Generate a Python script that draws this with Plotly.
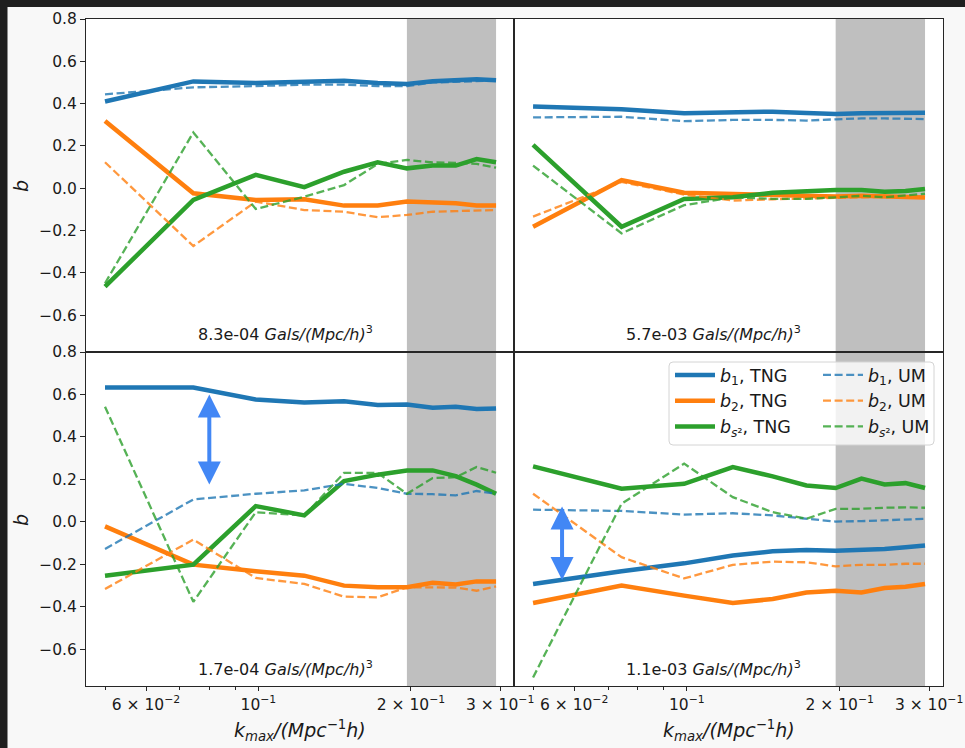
import math
import plotly.graph_objects as go

# k_max grid shared by every panel (Mpc^-1 h)
k_max = [0.0498, 0.0744, 0.0988, 0.1232, 0.1476, 0.172, 0.1964, 0.2208, 0.2452, 0.2696, 0.2945]

# number densities labelling the four panels (top-left, top-right, bottom-left, bottom-right)
densities = ["8.3e-04", "5.7e-03", "1.7e-04", "1.1e-03"]

# panel 1: n = 8.3e-04
p1_b1_tng = [0.41, 0.505, 0.497, 0.502, 0.508, 0.497, 0.493, 0.506, 0.508, 0.515, 0.51]
p1_b2_tng = [0.318, -0.024, -0.055, -0.052, -0.082, -0.082, -0.063, -0.068, -0.071, -0.081, -0.081]
p1_bs2_tng = [-0.465, -0.055, 0.063, 0.005, 0.078, 0.123, 0.094, 0.107, 0.107, 0.138, 0.123]
p1_b1_um = [0.444, 0.477, 0.483, 0.49, 0.49, 0.483, 0.483, 0.50, 0.503, 0.508, 0.51]
p1_b2_um = [0.123, -0.273, -0.063, -0.103, -0.111, -0.137, -0.126, -0.111, -0.108, -0.105, -0.103]
p1_bs2_um = [-0.449, 0.264, -0.098, -0.04, 0.015, 0.115, 0.134, 0.122, 0.12, 0.115, 0.097]

# panel 2: n = 5.7e-03
p2_b1_tng = [0.386, 0.373, 0.354, 0.357, 0.362, 0.356, 0.351, 0.354, 0.356, 0.357, 0.357]
p2_b2_tng = [-0.182, 0.039, -0.021, -0.027, -0.032, -0.036, -0.039, -0.036, -0.039, -0.042, -0.044]
p2_bs2_tng = [0.205, -0.182, -0.051, -0.043, -0.021, -0.013, -0.008, -0.008, -0.016, -0.013, -0.003]
p2_b1_um = [0.335, 0.338, 0.317, 0.323, 0.323, 0.32, 0.326, 0.33, 0.33, 0.33, 0.327]
p2_b2_um = [-0.134, 0.03, -0.03, -0.058, -0.052, -0.048, -0.045, -0.04, -0.04, -0.04, -0.042]
p2_bs2_um = [0.107, -0.213, -0.08, -0.043, -0.05, -0.05, -0.043, -0.036, -0.043, -0.034, -0.026]

# panel 3: n = 1.7e-04
p3_b1_tng = [0.633, 0.633, 0.576, 0.562, 0.568, 0.55, 0.553, 0.537, 0.542, 0.531, 0.534]
p3_b2_tng = [-0.022, -0.202, -0.233, -0.254, -0.301, -0.309, -0.309, -0.288, -0.296, -0.281, -0.281]
p3_bs2_tng = [-0.254, -0.202, 0.074, 0.03, 0.192, 0.222, 0.242, 0.242, 0.215, 0.175, 0.132]
p3_b1_um = [-0.128, 0.105, 0.132, 0.148, 0.179, 0.159, 0.132, 0.13, 0.124, 0.145, 0.132]
p3_b2_um = [-0.317, -0.084, -0.265, -0.293, -0.353, -0.356, -0.309, -0.309, -0.31, -0.325, -0.305]
p3_bs2_um = [0.542, -0.377, 0.045, 0.03, 0.23, 0.23, 0.132, 0.206, 0.21, 0.258, 0.231]

# panel 4: n = 1.1e-03
p4_b1_tng = [-0.293, -0.233, -0.196, -0.159, -0.139, -0.133, -0.137, -0.133, -0.128, -0.12, -0.112]
p4_b2_tng = [-0.383, -0.301, -0.348, -0.383, -0.364, -0.333, -0.325, -0.333, -0.312, -0.306, -0.293]
p4_bs2_tng = [0.261, 0.156, 0.179, 0.258, 0.214, 0.171, 0.159, 0.203, 0.176, 0.182, 0.159]
p4_b1_um = [0.057, 0.051, 0.034, 0.04, 0.03, 0.014, 0.001, 0.003, 0.006, 0.008, 0.014]
p4_b2_um = [0.132, -0.167, -0.267, -0.203, -0.188, -0.191, -0.21, -0.203, -0.203, -0.198, -0.198]
p4_bs2_um = [-0.734, 0.085, 0.274, 0.116, 0.045, 0.014, 0.061, 0.061, 0.066, 0.068, 0.066]

# double arrows marking the b1 offset (bottom-left, bottom-right)
arrow_k = [0.080, 0.0568]
arrow_top = [0.600, 0.072]
arrow_bottom = [0.168, -0.281]

# axis ticks
x_tickvals = [0.06, 0.1, 0.2, 0.3]
x_ticktext = ["6 × 10<sup>−2</sup>", "10<sup>−1</sup>", "2 × 10<sup>−1</sup>", "3 × 10<sup>−1</sup>"]
x_minor = [0.05, 0.07, 0.08, 0.09]
y_tickvals = [-0.6, -0.4, -0.2, 0.0, 0.2, 0.4, 0.6, 0.8]
y_ticktext = ["−0.6", "−0.4", "−0.2", "0.0", "0.2", "0.4", "0.6", "0.8"]

panels = [
    [p1_b1_tng, p1_b2_tng, p1_bs2_tng, p1_b1_um, p1_b2_um, p1_bs2_um],
    [p2_b1_tng, p2_b2_tng, p2_bs2_tng, p2_b1_um, p2_b2_um, p2_bs2_um],
    [p3_b1_tng, p3_b2_tng, p3_bs2_tng, p3_b1_um, p3_b2_um, p3_bs2_um],
    [p4_b1_tng, p4_b2_tng, p4_bs2_tng, p4_b1_um, p4_b2_um, p4_bs2_um],
]
names = ["<i>b</i><sub>1</sub>, TNG", "<i>b</i><sub>2</sub>, TNG", "<i>b</i><sub><i>s</i>²</sub>, TNG",
         "<i>b</i><sub>1</sub>, UM", "<i>b</i><sub>2</sub>, UM", "<i>b</i><sub><i>s</i>²</sub>, UM"]
colors = ["#1f77b4", "#ff7f0e", "#2ca02c"]

W, H = 965, 748
FONT = "DejaVu Sans"
INK = "#1a1a1a"
FRAME = "#262626"


def fx(p):
    return p / W


def fy(p):
    return 1 - p / H


# pixel boxes of the four panels: (left, right, top, bottom)
boxes = [(86, 514, 19, 352), (514, 943, 19, 352), (86, 514, 352, 686), (514, 943, 352, 686)]

fig = go.Figure()

for i, series in enumerate(panels):
    xa = "x" if i == 0 else f"x{i + 1}"
    ya = "y" if i == 0 else f"y{i + 1}"
    for j, vals in enumerate(series):
        tng = j < 3
        fig.add_trace(go.Scatter(
            x=k_max, y=vals, xaxis=xa, yaxis=ya, mode="lines",
            name=names[j],
            line=dict(color=colors[j % 3], width=4.5 if tng else 2.3,
                      dash="solid" if tng else "8px,3.6px"),
            opacity=1.0 if tng else 0.8,
            showlegend=(i == 3),
            legend="legend" if tng else "legend2",
        ))

layout = dict(
    width=W, height=H, autosize=False,
    margin=dict(l=0, r=0, t=0, b=0, autoexpand=False),
    paper_bgcolor="#f8f8f8", plot_bgcolor="white",
    font=dict(family=FONT, color=INK, size=15.5),
    shapes=[], annotations=[],
)

xrange = [-1.3403, -0.4955]
for i, (l, r, t, b) in enumerate(boxes):
    sfx = "" if i == 0 else str(i + 1)
    bottom = i >= 2
    left = i % 2 == 0
    xax = dict(
        domain=[fx(l), fx(r)], anchor="y" + sfx, type="log", range=xrange,
        showgrid=False, zeroline=False, showline=True, mirror=True,
        linecolor=FRAME, linewidth=1.2, automargin=False,
    )
    if bottom:
        xax.update(tickmode="array", tickvals=x_tickvals, ticktext=x_ticktext,
                   ticks="outside", ticklen=4, tickwidth=1.1, tickcolor=FRAME,
                   tickfont=dict(size=15.5, family=FONT, color=INK),
                   minor=dict(tickmode="array", tickvals=x_minor, ticks="outside",
                              ticklen=3, tickwidth=1.0, tickcolor=FRAME))
    else:
        xax.update(showticklabels=False, ticks="")
    yax = dict(
        domain=[fy(b), fy(t)], anchor="x" + sfx, range=[-0.774, 0.8],
        showgrid=False, zeroline=False, showline=True, mirror=True,
        linecolor=FRAME, linewidth=1.2, automargin=False,
    )
    if left:
        yax.update(tickmode="array", tickvals=y_tickvals, ticktext=y_ticktext,
                   ticks="outside", ticklen=5, tickwidth=1.1, tickcolor=FRAME,
                   tickfont=dict(size=15.5, family=FONT, color=INK))
    else:
        yax.update(showticklabels=False, ticks="")
    layout["xaxis" + sfx] = xax
    layout["yaxis" + sfx] = yax

    # shaded k_max window
    layout["shapes"].append(dict(
        type="rect", xref="x" + sfx, yref=f"y{sfx} domain",
        x0=k_max[6], x1=k_max[-1], y0=0, y1=1,
        fillcolor="rgba(128,128,128,0.5)", line=dict(width=0), layer="below",
    ))

    # number density label
    layout["annotations"].append(dict(
        xref=f"x{sfx} domain", yref=f"y{sfx} domain",
        x=110 / (r - l), y=(b - 333 if not bottom else b - 668) / (b - t),
        xanchor="left", yanchor="middle", showarrow=False,
        text=densities[i] + " <i>Gals/(Mpc/h)</i><sup>3</sup>",
        font=dict(size=16, family=FONT, color=INK),
    ))

# axis titles
for yc in (186, 520):
    layout["annotations"].append(dict(
        xref="paper", yref="paper", x=fx(21), y=fy(yc), showarrow=False,
        text="<i>b</i>", textangle=-90, font=dict(size=19, family=FONT, color=INK),
        xanchor="center", yanchor="middle",
    ))
for xc in (300, 728.5):
    layout["annotations"].append(dict(
        xref="paper", yref="paper", x=fx(xc), y=fy(730), showarrow=False,
        text="<i>k</i><sub><i>max</i></sub><i>/(Mpc</i><sup>−1</sup><i>h)</i>",
        font=dict(size=19, family=FONT, color=INK),
        xanchor="center", yanchor="middle",
    ))

# double arrows
for n, (ka, yt, yb) in enumerate(zip(arrow_k, arrow_top, arrow_bottom)):
    sfx = str(n + 3)
    lk = math.log10(ka)
    layout["annotations"].append(dict(
        xref="x" + sfx, yref="y" + sfx, axref="x" + sfx, ayref="y" + sfx,
        x=lk, y=yt, ax=lk, ay=yb, text="", showarrow=True,
        arrowhead=2, startarrowhead=2, arrowside="end+start",
        arrowsize=1.15, startarrowsize=1.15, arrowwidth=4, arrowcolor="#4287f5",
        standoff=0, startstandoff=0,
    ))

# legend frame
lx0, lx1, ly0, ly1, rad = 669, 934, 362, 445, 4
path = (f"M{fx(lx0 + rad)},{fy(ly0)} L{fx(lx1 - rad)},{fy(ly0)} Q{fx(lx1)},{fy(ly0)} {fx(lx1)},{fy(ly0 + rad)} "
        f"L{fx(lx1)},{fy(ly1 - rad)} Q{fx(lx1)},{fy(ly1)} {fx(lx1 - rad)},{fy(ly1)} "
        f"L{fx(lx0 + rad)},{fy(ly1)} Q{fx(lx0)},{fy(ly1)} {fx(lx0)},{fy(ly1 - rad)} "
        f"L{fx(lx0)},{fy(ly0 + rad)} Q{fx(lx0)},{fy(ly0)} {fx(lx0 + rad)},{fy(ly0)} Z")
layout["shapes"].append(dict(type="path", xref="paper", yref="paper", path=path,
                             fillcolor="rgba(255,255,255,0.8)",
                             line=dict(color="#d4d4d4", width=1), layer="above"))

# dark page edges
layout["shapes"].append(dict(type="rect", xref="paper", yref="paper", x0=0, x1=fx(7.5), y0=0, y1=1,
                             fillcolor="#1f1f1f", line=dict(width=0), layer="below"))
layout["shapes"].append(dict(type="rect", xref="paper", yref="paper", x0=0, x1=1, y0=fy(7), y1=1,
                             fillcolor="#1f1f1f", line=dict(width=0), layer="below"))

leg_common = dict(xanchor="left", yanchor="top", bgcolor="rgba(0,0,0,0)", borderwidth=0,
                  font=dict(size=17.5, family=FONT, color=INK), tracegroupgap=0, itemwidth=40)
layout["legend"] = dict(x=fx(670), y=fy(357), **leg_common)
layout["legend2"] = dict(x=fx(818), y=fy(357), **leg_common)

fig.update_layout(**layout)
fig.write_html("out.html")
